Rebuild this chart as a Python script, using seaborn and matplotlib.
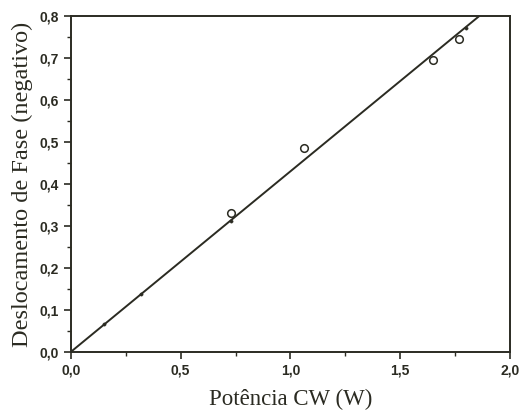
import matplotlib
matplotlib.use("Agg")
import matplotlib.pyplot as plt
import seaborn as sns
import pandas as pd
from matplotlib.ticker import MultipleLocator

# measured points (open circles)
power_w = [0.73, 1.06, 1.65, 1.77]
phase_shift = [0.330, 0.485, 0.695, 0.745]

# small filled markers sitting on the line
dot_power = [0.15, 0.32, 0.73, 1.80]
dot_phase = [0.066, 0.138, 0.312, 0.772]

# linear fit endpoints
fit_power = [0.0, 1.86]
fit_phase = [0.0, 0.80]

x_ticks = [0.0, 0.5, 1.0, 1.5, 2.0]
x_tick_labels = ["0,0", "0,5", "1,0", "1,5", "2,0"]
y_ticks = [0.0, 0.1, 0.2, 0.3, 0.4, 0.5, 0.6, 0.7, 0.8]
y_tick_labels = ["0,0", "0,1", "0,2", "0,3", "0,4", "0,5", "0,6", "0,7", "0,8"]

ink = "#2b2b22"

sns.set_style("ticks")
plt.rcParams["font.family"] = ["Liberation Sans", "DejaVu Sans"]

df = pd.DataFrame({"power": power_w, "phase": phase_shift})
df_dots = pd.DataFrame({"power": dot_power, "phase": dot_phase})
df_fit = pd.DataFrame({"power": fit_power, "phase": fit_phase})

fig = plt.figure(figsize=(5.29, 4.12), dpi=100)
ax = fig.add_axes([0.134, 0.146, 0.830, 0.815])

sns.lineplot(data=df_fit, x="power", y="phase", ax=ax, color=ink, linewidth=1.4)
sns.scatterplot(data=df_dots, x="power", y="phase", ax=ax, color=ink, s=6,
                edgecolor=ink, zorder=3)
sns.scatterplot(data=df, x="power", y="phase", ax=ax, facecolor="white",
                edgecolor=ink, linewidth=1.1, s=30, zorder=4)

ax.set_xlim(0, 2.0)
ax.set_ylim(0, 0.8)
ax.set_xticks(x_ticks)
ax.set_xticklabels(x_tick_labels)
ax.set_yticks(y_ticks)
ax.set_yticklabels(y_tick_labels)
ax.xaxis.set_minor_locator(MultipleLocator(0.25))
ax.yaxis.set_minor_locator(MultipleLocator(0.05))
ax.tick_params(axis="both", which="major", direction="out", length=5, width=1.2,
               colors=ink, labelsize=10)
ax.tick_params(axis="both", which="minor", direction="out", length=3, width=1.0,
               colors=ink)
for lbl in ax.get_xticklabels() + ax.get_yticklabels():
    lbl.set_fontweight("bold")
for side in ["top", "right", "bottom", "left"]:
    ax.spines[side].set_visible(True)
    ax.spines[side].set_color(ink)
    ax.spines[side].set_linewidth(1.4)

ax.set_xlabel("Potência CW (W)", family=["Liberation Serif", "DejaVu Serif"],
              fontsize=16.5, color=ink, labelpad=8)
ax.set_ylabel("Deslocamento de Fase (negativo)",
              family=["Liberation Serif", "DejaVu Serif"], fontsize=17.5,
              color=ink, labelpad=5)

fig.savefig("out.png", dpi=100)
